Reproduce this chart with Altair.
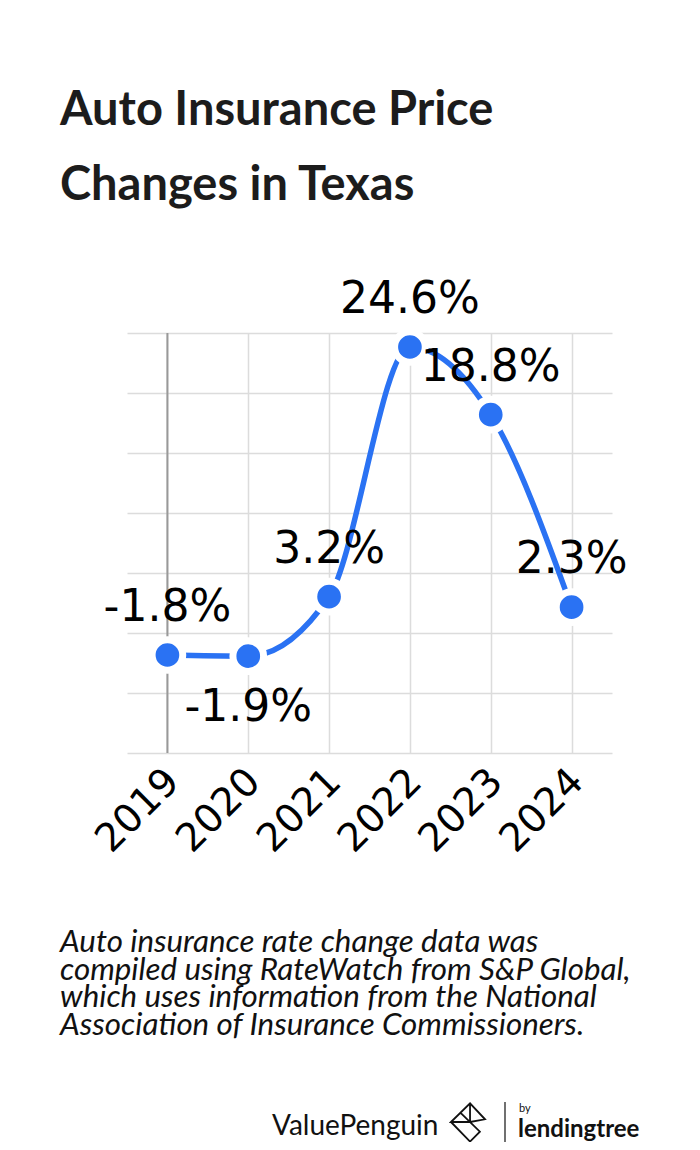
import altair as alt
import pandas as pd

# ---- data ----
years = ["2019", "2020", "2021", "2022", "2023", "2024"]
changes = [-1.8, -1.9, 3.2, 24.6, 18.8, 2.3]
labels = ["-1.8%", "-1.9%", "3.2%", "24.6%", "18.8%", "2.3%"]
title_lines = ["Auto Insurance Price", "Changes in Texas"]
note_lines = [
    "Auto insurance rate change data was",
    "compiled using RateWatch from S&P Global,",
    "which uses information from the National",
    "Association of Insurance Commissioners.",
]
brand_left = "ValuePenguin"
brand_by = "by"
brand_right = "lendingtree"

df = pd.DataFrame({"year": years, "change": changes, "label": labels})

Y_MIN, Y_MAX = -10.2, 25.8
grid_vals = [Y_MIN + i * (Y_MAX - Y_MIN) / 7 for i in range(8)]

BLUE = "#2a72f3"
GRID = "#dcdcdc"
W, H = 485, 420

x_enc = alt.X(
    "year:O",
    scale=alt.Scale(type="point", padding=0.5),
    axis=alt.Axis(
        title=None, labelAngle=-45, labelFontSize=39, labelFont="DejaVu Sans",
        labelColor="#000000", labelAlign="right", labelBaseline="middle",
        labelPadding=22, labelOffset=5, ticks=False, domain=False, grid=True,
        gridColor=GRID, gridWidth=1.5,
    ),
)
y_enc = alt.Y(
    "change:Q",
    scale=alt.Scale(domain=[Y_MIN, Y_MAX], nice=False, zero=False),
    axis=alt.Axis(
        title=None, labels=False, ticks=False, domain=False, values=grid_vals,
        gridColor=GRID, gridWidth=1.5,
    ),
)

base = alt.Chart(df)

line = base.mark_line(interpolate="monotone", color=BLUE, strokeWidth=5.5).encode(x=x_enc, y=y_enc)

first_rule = base.transform_filter(alt.datum.year == "2019").mark_rule(
    color="#999999", strokeWidth=2
).encode(x=alt.X("year:O"), y=alt.datum(Y_MIN), y2=alt.datum(Y_MAX))

points = base.mark_circle(
    color=BLUE, fill=BLUE, opacity=1, size=940, stroke="white", strokeWidth=7
).encode(x=alt.X("year:O"), y=alt.Y("change:Q"))

labels_above = base.transform_filter(alt.datum.year != "2020").mark_text(
    font="DejaVu Sans", fontSize=44, dy=-34, baseline="alphabetic", color="#000000"
).encode(x=alt.X("year:O"), y=alt.Y("change:Q"), text="label:N")

labels_below = base.transform_filter(alt.datum.year == "2020").mark_text(
    font="DejaVu Sans", fontSize=44, dy=65, baseline="alphabetic", color="#000000"
).encode(x=alt.X("year:O"), y=alt.Y("change:Q"), text="label:N")

one = alt.Data(values=[{}])

title = alt.Chart(one).mark_text(
    text=title_lines, align="left", baseline="alphabetic", font="Lato",
    fontWeight="bold", fontSize=47, lineHeight=75, color="#1c1c1c"
).encode(x=alt.value(-67), y=alt.value(-208))

note = alt.Chart(one).mark_text(
    text=note_lines, align="left", baseline="alphabetic", font="Lato",
    fontStyle="italic", fontSize=31.3, lineHeight=27.7, color="#111111"
).encode(x=alt.value(-67), y=alt.value(619))

brand1 = alt.Chart(one).mark_text(
    text=brand_left, align="left", baseline="alphabetic", font="Lato",
    fontSize=28, color="#111111"
).encode(x=alt.value(145), y=alt.value(802))

icon_path = (
    "M-1,0L0.12,-1.1L1,-0.16L0.12,0Z M0.12,-1.1L0.12,0 "
    "M-0.45,-0.55L0.7,0.57L0.12,1.15L-1,0"
)
icon = alt.Chart(one).mark_point(
    shape=icon_path, filled=False, stroke="#111111", strokeWidth=1.8, size=1156, opacity=1
).encode(x=alt.value(341), y=alt.value(789))

divider = alt.Chart(one).mark_rule(color="#111111", strokeWidth=1.2).encode(
    x=alt.value(378), y=alt.value(769), y2=alt.value(812)
)

brand_by_t = alt.Chart(one).mark_text(
    text=brand_by, align="left", baseline="alphabetic", font="Lato",
    fontSize=11, color="#111111"
).encode(x=alt.value(392), y=alt.value(779))

brand2 = alt.Chart(one).mark_text(
    text=brand_right, align="left", baseline="alphabetic", font="Lato",
    fontWeight="bold", fontSize=24, color="#111111"
).encode(x=alt.value(391), y=alt.value(804))

chart = alt.layer(
    line, first_rule, points, labels_above, labels_below,
    title, note, brand1, icon, divider, brand_by_t, brand2,
).properties(
    width=W, height=H,
    autosize=alt.AutoSizeParams(type="none"),
    padding={"left": 119, "top": 325, "right": 76, "bottom": 389},
    background="white",
).configure_view(stroke=None)

chart.save("out.html", embed_options={"renderer": "svg", "actions": False})
